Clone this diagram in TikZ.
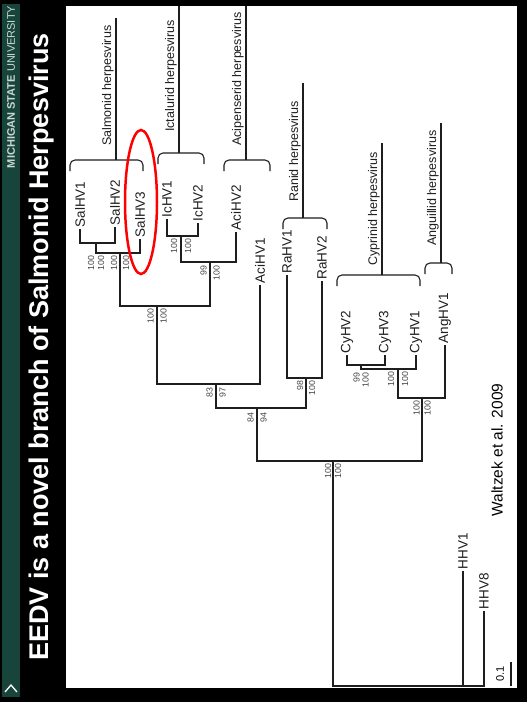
\documentclass[tikz,border=0pt]{standalone}
\usepackage{fontspec}
\setmainfont{Liberation Sans}
\usepackage{tikz}
\usetikzlibrary{calc,positioning,shapes.geometric}
\definecolor{msugreen}{RGB}{24,69,59}
\definecolor{msutext}{RGB}{205,215,210}
\definecolor{boottxt}{RGB}{70,70,70}
\definecolor{treeline}{RGB}{30,30,30}
\tikzset{
  taxon/.style={rotate=90,anchor=west,font=\fontsize{13.5}{14}\selectfont,text=treeline,inner sep=1.5pt},
  grp/.style={rotate=90,anchor=south west,font=\fontsize{12.5}{13}\selectfont,text=treeline,inner sep=1pt},
  boot/.style={rotate=90,anchor=east,font=\fontsize{8.8}{9}\selectfont,text=boottxt,inner sep=0.5pt},
  br/.style={draw=treeline,line width=1.2pt},
  brk/.style={draw=treeline,line width=1.1pt,rounded corners=5pt}
}

\begin{document}
\begin{tikzpicture}[x=1pt,y=-1pt,
  ttl/.style={rotate=90,text=white,font=\fontsize{27}{30}\selectfont\bfseries},
  msu/.style={rotate=90,text=msutext,font=\fontsize{11}{12}\selectfont}]
\useasboundingbox (0,0) rectangle (527,702);
\fill[black] (0,0) rectangle (527,702);
\fill[msugreen] (2,4) rectangle (20,697);
\fill[white] (66,6) rectangle (517,688);
\newcommand{\clade}[8]{\coordinate (#1b) at (#5,#4); \coordinate (#1t) at (#5,#6);
  \draw[brk] (#2,#4+11) -- (#2,#4) -- (#3,#4) -- (#3,#4+11);
  \draw[br] (#1b) -- (#1t);
  \node[grp] (#1l) at (#5-1,#7) {#8};}
% slide frame
\node[msu] (uni) at (11,87) {{\bfseries MICHIGAN STATE} UNIVERSITY};
\node[ttl] (title) at (42,347) {EEDV is a novel branch of Salmonid Herpesvirus};
\draw[white,line width=1.3pt] (5,692) -- (11,685) -- (17,692);
% tips
\foreach \n/\x/\y/\t in {sal1/80/229/SalHV1, sal2/115/227/SalHV2, sal3/140/239/SalHV3,
  ic1/167/219/IcHV1, ic2/198/223/IcHV2, aci2/236/232/AciHV2, aci1/260/285/AciHV1,
  ra1/287/275/RaHV1, ra2/322/281/RaHV2, cy2/347/355/CyHV2, cy3/385/355/CyHV3,
  cy1/416/355/CyHV1, ang1/445/345/AngHV1, hhv1/463/571/HHV1, hhv8/484/611/HHV8}{
  \node[taxon] (\n) at (\x,\y) {\t};
}
% internal nodes
\coordinate (sA) at (96,243);
\coordinate (sB) at (120,253);
\coordinate (icA) at (181,236);
\coordinate (icB) at (210,262);
\coordinate (sic) at (157,306);
\coordinate (aci) at (216,384);
\coordinate (ra) at (306,378);
\coordinate (top) at (257,408);
\coordinate (cyA) at (361,365);
\coordinate (cyB) at (398,369);
\coordinate (ang) at (422,398);
\coordinate (ing) at (333,461);
\coordinate (root) at (463,686);
\draw[br] (sal1.west) |- (sA) -| (sal2.west);
\draw[br] (sA) |- (sB) -| (sal3.west);
\draw[br] (ic1.west) |- (icA) -| (ic2.west);
\draw[br] (icA) |- (icB) -| (aci2.west);
\draw[br] (sB) |- (sic) -| (icB);
\draw[br] (sic) |- (aci) -| (aci1.west);
\draw[br] (ra1.west) |- (ra) -| (ra2.west);
\draw[br] (aci) |- (top) -| (ra);
\draw[br] (cy2.west) |- (cyA) -| (cy3.west);
\draw[br] (cyA) |- (cyB) -| (cy1.west);
\draw[br] (cyB) |- (ang) -| (ang1.west);
\draw[br] (top) |- (ing) -| (ang);
\draw[br] (ing) |- (root) -| (hhv8.west);
\draw[br] (hhv1.west) -- (root);
% bootstrap values
\foreach \n/\d/\l/\r/\dy in {sA/5/100/100/12, sB/6/100/100/2, icA/7/100/100/2, icB/6.5/99/100/3,
  sic/6.5/100/100/2, aci/6.5/83/97/3, ra/6/98/100/2, top/6.5/84/94/4, cyA/4.5/99/100/7,
  cyB/7/100/100/2, ang/5.5/100/100/2, ing/5/100/100/2}{
  \node[boot] (bl\n) at ($(\n)+(-\d,\dy)$) {\l};
  \node[boot] (br\n) at ($(\n)+(\d,\dy)$) {\r};
}
% clade brackets
\clade{salm}{70}{143}{160}{116}{18}{147}{Salmonid herpesvirus}
\clade{ict}{158}{204}{153}{179}{6}{133}{Ictalurid herpesvirus}
\clade{acip}{224}{270}{160}{246}{6}{147}{Acipenserid herpesvirus}
\clade{ran}{283}{327}{218}{303}{83}{203}{Ranid herpesvirus}
\clade{cyp}{337}{420}{275}{382}{143}{267}{Cyprinid herpesvirus}
\clade{angu}{425}{452}{263}{441}{123}{247}{Anguillid herpesvirus}
\node[draw=red,ellipse,line width=2.5pt,minimum width=32pt,minimum height=144pt,inner sep=0pt] (hl) at (141,202) {};
% source and scale
\node[rotate=90,font=\fontsize{15.5}{16}\selectfont] (src) at (497,450) {Waltzek et al. 2009};
\coordinate (sc1) at (511,662);
\coordinate (sc2) at (511,686);
\draw[br] (sc1) -- (sc2);
\node[rotate=90,font=\fontsize{11}{12}\selectfont] (scl) at (500,674) {0.1};
\end{tikzpicture}
\end{document}
